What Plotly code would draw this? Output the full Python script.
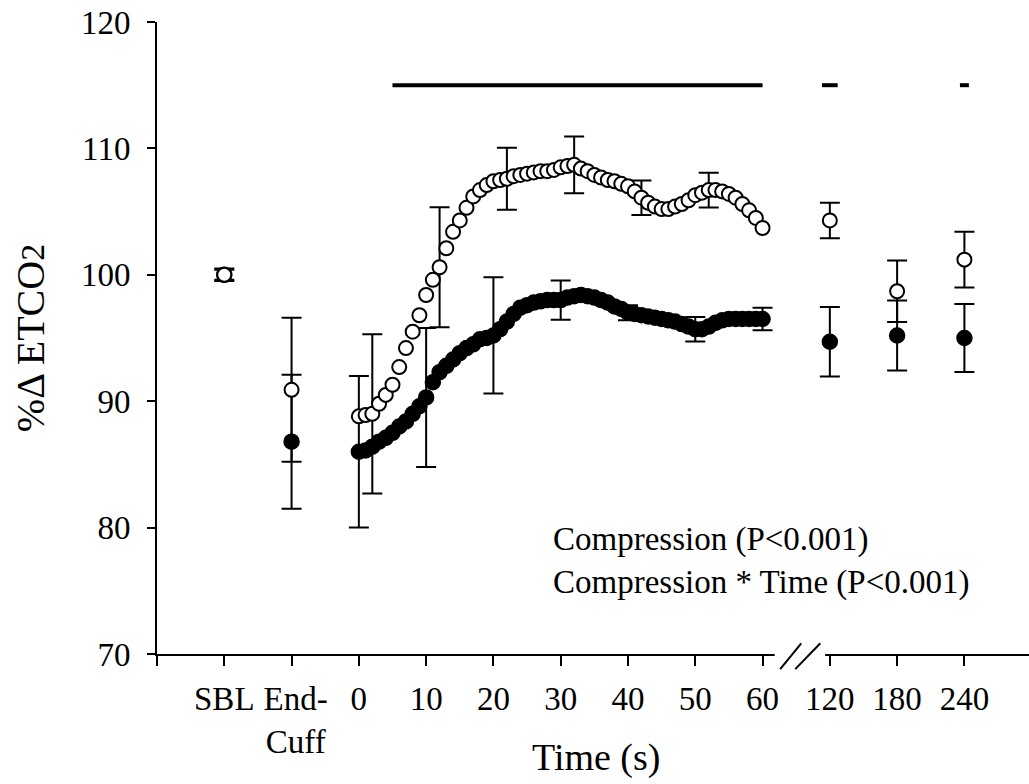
import plotly.graph_objects as go

# ---------------- data ----------------
time_s = list(range(0, 61))

open_course = [88.8, 88.9, 89.0, 89.8, 90.5, 91.3, 92.7, 94.2, 95.5, 96.8,
               98.4, 99.6, 100.6, 102.1, 103.4, 104.3, 105.3, 106.2, 106.7, 107.1,
               107.4, 107.5, 107.6, 107.8, 107.9, 108.0, 108.1, 108.2, 108.2, 108.3,
               108.5, 108.6, 108.7, 108.4, 108.2, 107.9, 107.7, 107.5, 107.4, 107.2,
               107.0, 106.6, 106.1, 105.7, 105.4, 105.2, 105.2, 105.4, 105.6, 105.9,
               106.3, 106.5, 106.7, 106.7, 106.6, 106.4, 106.1, 105.6, 105.1, 104.5,
               103.7]

filled_course = [86.0, 86.1, 86.4, 86.8, 87.1, 87.5, 88.0, 88.4, 89.0, 89.6,
                 90.3, 91.5, 92.3, 92.8, 93.3, 93.8, 94.2, 94.5, 94.9, 95.0,
                 95.2, 95.7, 96.3, 96.9, 97.4, 97.6, 97.8, 97.9, 98.0, 98.0,
                 98.0, 98.2, 98.3, 98.4, 98.3, 98.2, 98.0, 97.8, 97.5, 97.3,
                 97.0, 96.9, 96.8, 96.7, 96.6, 96.5, 96.4, 96.3, 96.1, 95.9,
                 95.7, 95.7, 95.9, 96.2, 96.4, 96.5, 96.5, 96.5, 96.5, 96.5,
                 96.5]

open_err_t = [2, 12, 22, 32, 42, 52]
open_err = [6.3, 4.75, 2.45, 2.25, 1.36, 1.37]
filled_err_t = [0, 10, 20, 30, 40, 50, 60]
filled_err = [6.0, 5.5, 4.6, 1.55, 0.6, 0.97, 0.89]

extra_labels = ["SBL", "End-Cuff", "120", "180", "240"]
open_extra = [100.0, 90.9, 104.3, 98.7, 101.2]
open_extra_err = [0.5, 5.7, 1.4, 2.43, 2.2]
filled_extra = [100.0, 86.8, 94.7, 95.2, 95.0]
filled_extra_err = [0.4, 5.3, 2.75, 2.77, 2.68]

tick_vals = [-3, -2, -1, 0, 1, 2, 3, 4, 5, 6, 7, 8, 9]
tick_text = ["", "SBL", "&nbsp;End-<br>&nbsp;Cuff", "0", "10", "20", "30", "40", "50", "60",
             "120", "180", "240"]

sig_start_s = [5, 113, 236]
sig_end_s = [60, 127, 244]
sig_level = 115

y_ticks = [70, 80, 90, 100, 110, 120]


# ---------------- broken-axis transform ----------------
def tx(t):
    """seconds -> position on the broken x axis"""
    return t / 10.0 if t <= 60 else 5 + t / 60.0


label_pos = {"SBL": -2, "End-Cuff": -1}


def lx(lbl):
    return label_pos[lbl] if lbl in label_pos else tx(float(lbl))


FONT = "Liberation Serif"

fig = go.Figure()

x_course = [tx(t) for t in time_s]
x_extra = [lx(l) for l in extra_labels]

ebar = dict(type="data", thickness=2, width=10, color="black")

# filled series: error bars then markers
fig.add_trace(go.Scatter(
    x=[tx(t) for t in filled_err_t] + x_extra,
    y=[filled_course[time_s.index(t)] for t in filled_err_t] + filled_extra,
    mode="markers", marker=dict(size=1, opacity=0),
    error_y=dict(array=filled_err + filled_extra_err, **ebar),
    showlegend=False, hoverinfo="skip"))
fig.add_trace(go.Scatter(
    x=x_course + x_extra, y=filled_course + filled_extra, mode="markers",
    marker=dict(symbol="circle", size=15, color="black",
                line=dict(color="black", width=1.5)),
    showlegend=False))

# open series: error bars then markers
fig.add_trace(go.Scatter(
    x=[tx(t) for t in open_err_t] + x_extra,
    y=[open_course[time_s.index(t)] for t in open_err_t] + open_extra,
    mode="markers", marker=dict(size=1, opacity=0),
    error_y=dict(array=open_err + open_extra_err, **ebar),
    showlegend=False, hoverinfo="skip"))
fig.add_trace(go.Scatter(
    x=x_course + x_extra, y=open_course + open_extra, mode="markers",
    marker=dict(symbol="circle", size=14, color="white",
                line=dict(color="black", width=2)),
    showlegend=False))

# significance bars
for a, b in zip(sig_start_s, sig_end_s):
    fig.add_trace(go.Scatter(
        x=[tx(a), tx(b)], y=[sig_level, sig_level], mode="lines",
        line=dict(color="black", width=4), showlegend=False, hoverinfo="skip"))

# axis break
shapes = [
    dict(type="rect", xref="x", yref="paper", x0=6.18, x1=6.93, y0=-0.006, y1=0.006,
         fillcolor="white", line=dict(width=0), layer="above"),
    dict(type="line", xref="x", yref="paper", x0=6.262, y0=-0.024, x1=6.575, y1=0.017,
         line=dict(color="black", width=2), layer="above"),
    dict(type="line", xref="x", yref="paper", x0=6.486, y0=-0.024, x1=6.859, y1=0.017,
         line=dict(color="black", width=2), layer="above"),
]

annotations = [
    dict(text="Compression (P<0.001)<br>Compression * Time (P<0.001)",
         x=2.86, y=77.36, xref="x", yref="y", align="left",
         xanchor="left", yanchor="middle", showarrow=False,
         font=dict(family=FONT, size=33, color="black")),
    dict(text="Time (s)", x=0.503, y=-0.163, xref="paper", yref="paper",
         xanchor="center", yanchor="middle", showarrow=False,
         font=dict(family=FONT, size=38, color="black")),
]

fig.update_layout(
    width=1029, height=784,
    margin=dict(l=157, r=0, t=22, b=130),
    paper_bgcolor="white", plot_bgcolor="white",
    font=dict(family=FONT, size=33, color="black"),
    shapes=shapes, annotations=annotations,
    xaxis=dict(range=[-3, 9.96], tickmode="array", tickvals=tick_vals, ticktext=tick_text,
               showline=True, linecolor="black", linewidth=2, ticks="outside",
               ticklen=10, tickwidth=2, tickcolor="black", showgrid=False,
               zeroline=False, tickangle=0, automargin=False, ticklabelstandoff=4,
               ticklabeloverflow="allow"),
    yaxis=dict(range=[70, 120], tickmode="array", tickvals=y_ticks,
               showline=True, linecolor="black", linewidth=2, ticks="outside",
               ticklen=8, tickwidth=2, tickcolor="black", showgrid=False,
               zeroline=False, automargin=False, ticklabelstandoff=10,
               ticklabeloverflow="allow",
               title=dict(text="%Δ ETCO<span style='font-size:34px'>2</span>",
                          font=dict(family=FONT, size=40), standoff=24)),
)

# remove the page's default 8 px body margin so the figure fills the window exactly
fig.write_html("out.html",
               config={"displayModeBar": False},
               post_script="document.body.style.margin='0';"
                           "document.body.style.overflow='hidden';")
